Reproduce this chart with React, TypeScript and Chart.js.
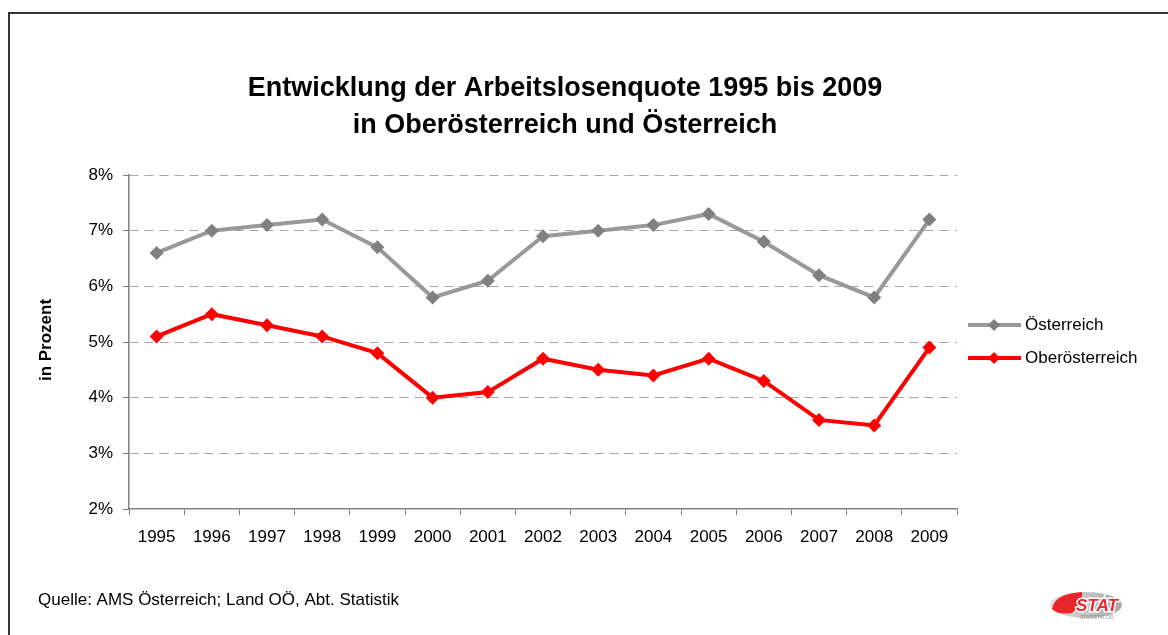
import React, { useEffect, useRef } from "react";
import { Chart, registerables } from "chart.js";

Chart.register(...registerables);

const years = ["1995", "1996", "1997", "1998", "1999", "2000", "2001", "2002", "2003", "2004", "2005", "2006", "2007", "2008", "2009"];
const oesterreich = [6.6, 7.0, 7.1, 7.2, 6.7, 5.8, 6.1, 6.9, 7.0, 7.1, 7.3, 6.8, 6.2, 5.8, 7.2];
const oberoesterreich = [5.1, 5.5, 5.3, 5.1, 4.8, 4.0, 4.1, 4.7, 4.5, 4.4, 4.7, 4.3, 3.6, 3.5, 4.9];
const titleLines = ["Entwicklung der Arbeitslosenquote 1995 bis 2009", "in Oberösterreich und Österreich"];
const yAxisTitle = "in Prozent";
const sourceText = "Quelle: AMS Österreich; Land OÖ, Abt. Statistik";
const seriesNames = ["Österreich", "Oberösterreich"];

const FONT = "'Liberation Sans', Arial, sans-serif";

const decorPlugin = {
  id: "decor",
  beforeDraw(chart: any) {
    const ctx = chart.ctx;
    ctx.save();
    ctx.fillStyle = "#ffffff";
    ctx.fillRect(0, 0, chart.width, chart.height);
    ctx.strokeStyle = "#333333";
    ctx.lineWidth = 2;
    ctx.beginPath();
    ctx.moveTo(9, chart.height + 5);
    ctx.lineTo(9, 13);
    ctx.lineTo(chart.width + 5, 13);
    ctx.stroke();
    ctx.restore();
  },
  afterDraw(chart: any) {
    const ctx = chart.ctx;
    ctx.save();
    // title
    ctx.fillStyle = "#000";
    ctx.font = `bold 27px ${FONT}`;
    ctx.textAlign = "center";
    ctx.textBaseline = "middle";
    ctx.fillText(titleLines[0], 565, 89);
    ctx.fillText(titleLines[1], 565, 126);
    // y axis title
    ctx.save();
    ctx.translate(46, 340);
    ctx.rotate(-Math.PI / 2);
    ctx.font = `bold 17px ${FONT}`;
    ctx.fillText(yAxisTitle, 0, 0);
    ctx.restore();
    // legend
    const items = [
      { y: 325, line: "#999999", mark: "#808080" },
      { y: 358, line: "#ff0000", mark: "#ff0000" },
    ];
    items.forEach((it, i) => {
      ctx.strokeStyle = it.line;
      ctx.lineWidth = 4;
      ctx.beginPath();
      ctx.moveTo(968, it.y);
      ctx.lineTo(1021, it.y);
      ctx.stroke();
      ctx.fillStyle = it.mark;
      ctx.beginPath();
      ctx.moveTo(994, it.y - 6);
      ctx.lineTo(1000, it.y);
      ctx.lineTo(994, it.y + 6);
      ctx.lineTo(988, it.y);
      ctx.closePath();
      ctx.fill();
      ctx.fillStyle = "#000";
      ctx.font = `17px ${FONT}`;
      ctx.textAlign = "left";
      ctx.textBaseline = "middle";
      ctx.fillText(seriesNames[i], 1025, it.y);
    });
    // source
    ctx.font = `17px ${FONT}`;
    ctx.textAlign = "left";
    ctx.fillText(sourceText, 38, 600);
    // logo
    const cx = 1086, cy = 605;
    const grad = ctx.createLinearGradient(cx - 36, cy, cx + 36, cy);
    grad.addColorStop(0, "#e0e0e0");
    grad.addColorStop(1, "#a8a8a8");
    ctx.fillStyle = grad;
    ctx.beginPath();
    ctx.ellipse(cx, cy, 36, 13, 0, 0, Math.PI * 2);
    ctx.fill();
    ctx.fillStyle = "#e8262b";
    ctx.beginPath();
    ctx.moveTo(cx - 34, cy + 4);
    ctx.quadraticCurveTo(cx - 32, cy - 11, cx - 4, cy - 13);
    ctx.quadraticCurveTo(cx - 2, cy - 2, cx - 14, cy + 8);
    ctx.quadraticCurveTo(cx - 28, cy + 10, cx - 34, cy + 4);
    ctx.closePath();
    ctx.fill();
    ctx.font = `italic bold 17px ${FONT}`;
    ctx.textAlign = "left";
    ctx.lineWidth = 3;
    ctx.strokeStyle = "#ffffff";
    ctx.strokeText("STAT", 1076, cy + 1);
    ctx.fillStyle = "#e8262b";
    ctx.fillText("STAT", 1076, cy + 1);
    ctx.fillStyle = "#888";
    ctx.font = `5px ${FONT}`;
    ctx.fillText("STATISTIK OÖ", 1080, cy + 13);
    ctx.restore();
  },
};

export default function App() {
  const ref = useRef<HTMLCanvasElement>(null);
  useEffect(() => {
    if (!ref.current) return;
    const chart = new Chart(ref.current, {
      type: "line",
      data: {
        labels: years,
        datasets: [
          {
            label: seriesNames[0],
            data: oesterreich,
            borderColor: "#999999",
            backgroundColor: "#808080",
            pointBackgroundColor: "#808080",
            pointBorderColor: "#808080",
            borderWidth: 4,
            pointStyle: "rectRot",
            pointRadius: 7,
            pointBorderWidth: 0,
            tension: 0,
          },
          {
            label: seriesNames[1],
            data: oberoesterreich,
            borderColor: "#ff0000",
            backgroundColor: "#ff0000",
            pointBackgroundColor: "#ff0000",
            pointBorderColor: "#ff0000",
            borderWidth: 4,
            pointStyle: "rectRot",
            pointRadius: 7,
            pointBorderWidth: 0,
            tension: 0,
          },
        ],
      },
      options: {
        responsive: false,
        animation: false,
        events: [],
        layout: { padding: { left: 0, top: 175, right: 211, bottom: 0 } },
        plugins: {
          legend: { display: false },
          title: { display: false },
          tooltip: { enabled: false },
        },
        scales: {
          x: {
            type: "category",
            offset: true,
            afterFit(scale: any) {
              scale.height = 126;
            },
            grid: {
              offset: true,
              drawOnChartArea: false,
              drawTicks: true,
              tickLength: 6,
              tickColor: "#808080",
              color: "#808080",
            },
            border: { display: true, color: "#808080", width: 1.5, z: 1 },
            ticks: {
              color: "#000",
              font: { family: FONT, size: 17 },
              padding: 12,
              maxRotation: 0,
              autoSkip: false,
            },
          },
          y: {
            min: 2,
            max: 8,
            afterFit(scale: any) {
              scale.width = 129;
            },
            ticks: {
              stepSize: 1,
              color: "#000",
              font: { family: FONT, size: 17 },
              padding: 10,
              callback: (v: any) => `${v}%`,
            },
            grid: {
              color: (c: any) => (c.tick && c.tick.value === 2 ? "rgba(0,0,0,0)" : "#a6a6a6"),
              lineWidth: 1,
              drawTicks: true,
              tickLength: 6,
              tickColor: "#808080",
              tickBorderDash: [],
            },
            border: { display: true, color: "#808080", width: 1.5, dash: [9, 6] },
          },
        },
      },
      plugins: [decorPlugin],
    });
    return () => chart.destroy();
  }, []);
  return (
    <div style={{ position: "fixed", left: 0, top: 0, width: 1168, height: 635 }}>
      <canvas ref={ref} width={1168} height={635} style={{ width: 1168, height: 635 }} />
    </div>
  );
}
